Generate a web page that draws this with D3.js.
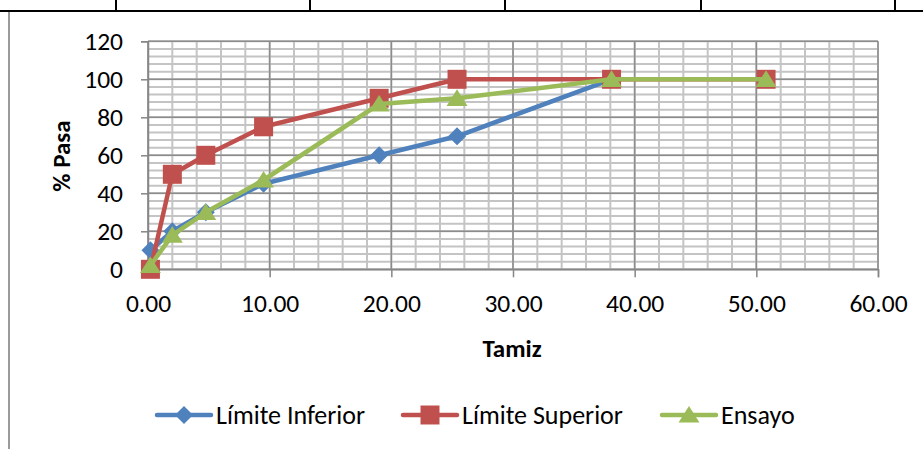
<!DOCTYPE html>
<html>
<head>
<meta charset="utf-8">
<script src="https://cdn.jsdelivr.net/npm/d3@7/dist/d3.min.js"></script>
<style>
  html, body { margin: 0; padding: 0; background: #fff; }
  svg { display: block; }
  text { font-family: Carlito, Calibri, Lato, sans-serif; fill: #000; }
</style>
</head>
<body>
<svg id="chart" width="923" height="449"></svg>
<script>
// Sieve openings (mm) and percent passing for each curve
const tamiz = [0.2, 2.0, 4.75, 9.5, 19.0, 25.4, 38.1, 50.8];
const limiteInferior = [10, 20, 30, 45, 60, 70, 100];
const limiteSuperior = [0, 50, 60, 75, 90, 100, 100, 100];
const ensayo = [2, 18, 30, 47, 87, 90, 100, 100];

const xTicks = [0, 10, 20, 30, 40, 50, 60];
const yTicks = [0, 20, 40, 60, 80, 100, 120];
const seriesNames = ["Límite Inferior", "Límite Superior", "Ensayo"];
const seriesColors = ["#4F81BD", "#C0504D", "#9BBB59"];
const seriesMarkers = ["diamond", "square", "triangle"];

const svg = d3.select("#chart");

// Surrounding table lines of the document page
const frame = svg.append("g");
frame.append("line").attr("x1", 0).attr("x2", 923).attr("y1", 11).attr("y2", 11)
  .attr("stroke", "#000").attr("stroke-width", 2);
[116, 310, 505, 701, 895].forEach(x => {
  frame.append("line").attr("x1", x).attr("x2", x).attr("y1", 0).attr("y2", 11)
    .attr("stroke", "#000").attr("stroke-width", 2);
});
frame.append("line").attr("x1", 9).attr("x2", 9).attr("y1", 12).attr("y2", 449)
  .attr("stroke", "#9a9a9a").attr("stroke-width", 2);

const x = d3.scaleLinear().domain([0, 60]).range([148, 878]);
const y = d3.scaleLinear().domain([0, 120]).range([269.3, 41.3]);

const grid = svg.append("g");
// minor gridlines
grid.selectAll("line.vmin").data(d3.range(0, 61, 2)).join("line")
  .attr("x1", d => x(d)).attr("x2", d => x(d)).attr("y1", y(0)).attr("y2", y(120))
  .attr("stroke", "#c4c4c4").attr("stroke-width", 2);
grid.selectAll("line.hmin").data(d3.range(0, 121, 4)).join("line")
  .attr("x1", x(0)).attr("x2", x(60)).attr("y1", d => y(d)).attr("y2", d => y(d))
  .attr("stroke", "#c4c4c4").attr("stroke-width", 2);
// major gridlines
grid.selectAll("line.vmaj").data(xTicks).join("line")
  .attr("x1", d => x(d)).attr("x2", d => x(d)).attr("y1", y(0)).attr("y2", y(120))
  .attr("stroke", "#8c8c8c").attr("stroke-width", 1.5);
grid.selectAll("line.hmaj").data(yTicks).join("line")
  .attr("x1", x(0)).attr("x2", x(60)).attr("y1", d => y(d)).attr("y2", d => y(d))
  .attr("stroke", "#8c8c8c").attr("stroke-width", 1.5);

// axes
const xAxis = svg.append("g").attr("transform", `translate(0,${y(0)})`)
  .call(d3.axisBottom(x).tickValues(xTicks).tickFormat(d3.format(".2f")).tickSize(8).tickPadding(17));
const yAxis = svg.append("g").attr("transform", `translate(${x(0)},0)`)
  .call(d3.axisLeft(y).tickValues(yTicks).tickSize(7).tickPadding(18));
[xAxis, yAxis].forEach(a => {
  a.select(".domain").attr("stroke", "#868686").attr("stroke-width", 1.5);
  a.selectAll(".tick line").attr("stroke", "#868686").attr("stroke-width", 1.5);
  a.selectAll(".tick text").attr("font-size", 25.5).attr("font-family", "Carlito, Calibri, Lato, sans-serif");
});

// axis titles
svg.append("text").attr("x", 512).attr("y", 357).attr("text-anchor", "middle")
  .attr("font-size", 25).attr("font-weight", "bold").text("Tamiz");
svg.append("text").attr("transform", "translate(70,156) rotate(-90)").attr("text-anchor", "middle")
  .attr("font-size", 25).attr("font-weight", "bold").text("% Pasa");

function markerPath(type, s) {
  const h = s / 2;
  if (type === "diamond") return `M0,${-h}L${h},0L0,${h}L${-h},0Z`;
  if (type === "square") return `M${-h},${-h}H${h}V${h}H${-h}Z`;
  return `M0,${-h * 0.95}L${h * 1.1},${h * 0.8}L${-h * 1.1},${h * 0.8}Z`;
}
const markerSize = { diamond: 18, square: 19, triangle: 19 };

const series = [limiteInferior, limiteSuperior, ensayo];
const line = d3.line().x(d => x(d[0])).y(d => y(d[1]));

series.forEach((vals, i) => {
  const pts = vals.map((v, j) => [tamiz[j], v]);
  const g = svg.append("g");
  g.append("path").datum(pts).attr("d", line).attr("fill", "none")
    .attr("stroke", seriesColors[i]).attr("stroke-width", 4.5).attr("stroke-linejoin", "round");
  g.selectAll("path.m").data(pts).join("path").attr("class", "m")
    .attr("transform", d => `translate(${x(d[0])},${y(d[1])})`)
    .attr("d", markerPath(seriesMarkers[i], markerSize[seriesMarkers[i]]))
    .attr("fill", seriesColors[i]);
});

// legend
const legendX = [157, 403, 662];
const legend = svg.append("g");
seriesNames.forEach((name, i) => {
  const g = legend.append("g").attr("transform", `translate(${legendX[i]},415)`);
  g.append("line").attr("x1", 0).attr("x2", 54).attr("y1", 0).attr("y2", 0)
    .attr("stroke", seriesColors[i]).attr("stroke-width", 4.5).attr("stroke-linecap", "round");
  g.append("path").attr("transform", "translate(27,0)")
    .attr("d", markerPath(seriesMarkers[i], markerSize[seriesMarkers[i]]))
    .attr("fill", seriesColors[i]);
  g.append("text").attr("x", 59).attr("y", 0).attr("dy", "0.35em")
    .attr("font-size", 26).text(name);
});
</script>
</body>
</html>
